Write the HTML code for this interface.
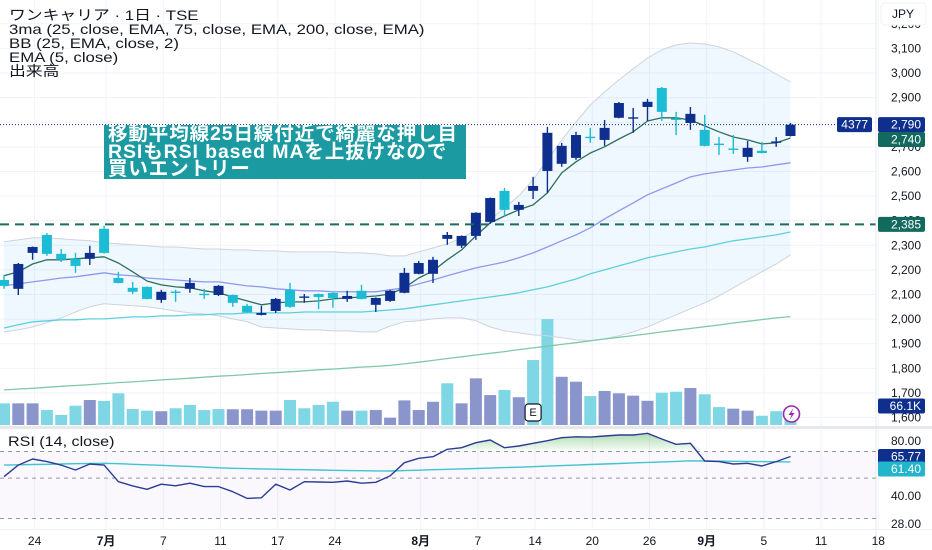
<!DOCTYPE html>
<html><head><meta charset="utf-8">
<style>
html,body{margin:0;padding:0;background:#fff;}
#wrap{position:relative;width:932px;height:550px;overflow:hidden;font-family:"Liberation Sans","Noto Sans CJK JP",sans-serif;color:#131722;}
#legend{position:absolute;left:9px;top:8px;font-size:14px;line-height:14px;transform:scaleX(1.2);transform-origin:0 0;white-space:nowrap;}
#note{position:absolute;left:104px;top:125px;width:362px;height:54px;background:#1b9aa1;color:#fff;font-weight:bold;font-size:19.5px;line-height:17.5px;padding:1px 0 0 4px;box-sizing:border-box;letter-spacing:0.9px;white-space:nowrap;overflow:hidden;}
#rsititle{position:absolute;left:8px;top:433px;font-size:14px;transform:scaleX(1.15);transform-origin:0 0;white-space:nowrap;}
svg{position:absolute;left:0;top:0;}
</style></head>
<body>
<div id="wrap">
<svg id="chart" width="932" height="550"></svg>
<div id="legend">
<div>ワンキャリア · 1日 · TSE</div>
<div>3ma (25, close, EMA, 75, close, EMA, 200, close, EMA)</div>
<div>BB (25, EMA, close, 2)</div>
<div>EMA (5, close)</div>
<div>出来高</div>
</div>
<div id="note">移動平均線25日線付近で綺麗な押し目<br>RSIもRSI based MAを上抜けなので<br>買いエントリー</div>
<div id="rsititle">RSI (14, close)</div>
</div>
<script>
const openP=[2159,2123,2269,2342,2265,2245,2245,2367,2167,2127,2131,2078,2112,2123,2103,2098,2098,2054,2017,2033,2119,2088,2102,2106,2082,2115,2058,2074,2107,2184,2184,2326,2298,2338,2395,2521,2444,2521,2602,2631,2655,2741,2728,2818,2816,2862,2939,2815,2797,2769,2713,2693,2659,2684,2718,2744];
const highP=[2180,2228,2295,2350,2285,2269,2298,2380,2192,2151,2133,2119,2119,2167,2123,2139,2100,2062,2054,2086,2147,2102,2104,2108,2115,2139,2088,2119,2208,2236,2253,2354,2340,2434,2494,2533,2476,2578,2781,2716,2761,2777,2809,2882,2858,2895,2943,2842,2862,2830,2740,2748,2724,2720,2740,2797];
const lowP=[2123,2098,2241,2257,2232,2188,2220,2266,2145,2102,2080,2066,2070,2107,2082,2094,2050,2025,2015,2025,2046,2066,2041,2046,2070,2080,2029,2070,2105,2182,2147,2302,2289,2322,2387,2415,2419,2488,2513,2619,2647,2716,2704,2816,2757,2805,2805,2748,2769,2702,2667,2671,2639,2673,2700,2742];
const closeP=[2135,2224,2293,2265,2241,2216,2269,2269,2147,2111,2082,2111,2110,2147,2101,2135,2066,2027,2025,2082,2050,2092,2090,2086,2094,2082,2086,2115,2188,2228,2241,2342,2338,2432,2492,2444,2464,2541,2757,2704,2748,2739,2777,2878,2820,2883,2842,2812,2834,2704,2711,2691,2696,2675,2722,2790];
const ema5=[2176,2192,2224,2241,2241,2245,2249,2253,2228,2192,2155,2139,2131,2127,2115,2107,2090,2074,2058,2066,2070,2070,2074,2082,2086,2090,2094,2102,2127,2167,2196,2241,2281,2338,2391,2419,2444,2464,2513,2594,2639,2675,2700,2732,2761,2805,2818,2818,2809,2785,2761,2740,2728,2712,2716,2736];
const ema25=[2135,2143,2151,2159,2167,2172,2180,2188,2180,2176,2167,2163,2159,2155,2151,2151,2143,2135,2131,2123,2119,2115,2115,2111,2111,2111,2111,2119,2127,2143,2159,2176,2192,2208,2220,2232,2249,2269,2293,2318,2342,2371,2407,2440,2472,2505,2529,2553,2578,2590,2598,2606,2614,2618,2627,2635];
const ema75=[1964,1977,1989,1993,1997,1997,2001,2001,2005,2009,2009,2013,2013,2017,2017,2021,2021,2025,2025,2025,2025,2029,2029,2029,2029,2029,2033,2037,2042,2050,2058,2066,2074,2082,2090,2098,2107,2119,2131,2147,2163,2184,2200,2216,2232,2249,2261,2273,2285,2293,2306,2318,2326,2334,2342,2354];
const ema200=[1712,1716,1719,1723,1727,1730,1734,1738,1742,1745,1749,1753,1756,1760,1764,1768,1771,1775,1779,1782,1786,1790,1794,1797,1801,1805,1808,1812,1818,1825,1832,1840,1847,1854,1861,1868,1876,1883,1890,1897,1904,1912,1919,1926,1933,1940,1948,1955,1962,1969,1976,1984,1991,1998,2005,2010];
const bbUpper=[2314,2322,2330,2330,2326,2322,2318,2310,2306,2302,2298,2293,2293,2289,2285,2285,2281,2281,2277,2277,2273,2273,2273,2273,2269,2269,2265,2257,2257,2273,2289,2306,2330,2362,2403,2452,2501,2566,2647,2728,2801,2870,2923,2972,3017,3061,3094,3114,3122,3118,3106,3086,3057,3029,2996,2964];
const bbLower=[1948,1956,1968,1985,2005,2029,2050,2062,2058,2054,2050,2042,2033,2025,2021,2013,2001,1989,1968,1964,1960,1956,1956,1952,1952,1948,1948,1972,1989,1993,2001,2005,2005,1993,1968,1952,1944,1936,1932,1924,1916,1912,1920,1932,1948,1968,1993,2017,2042,2066,2094,2127,2160,2192,2224,2261];
const volumeK=[110,110,110,76,51,98,127,122,161,81,73,70,85,102,76,81,80,80,73,73,127,85,102,118,73,73,76,37,125,76,118,212,110,237,152,178,141,330,538,245,220,147,173,161,149,123,164,169,188,156,91,83,73,47,70,66.1];
const volumeDir=['d','u','u','d','d','d','u','d','d','d','d','u','d','d','d','d','u','u','u','u','d','d','d','d','u','d','u','u','u','u','u','d','u','u','u','d','u','d','d','u','u','d','u','u','u','u','d','d','u','d','d','u','u','d','d','d'];
const rsi=[50.9,59.0,63.7,61.6,59.0,55.4,59.8,59.0,47.8,45.3,43.4,46.3,45.4,46.9,44.9,44.9,42.1,38.7,39.0,46.3,43.0,47.8,47.6,47.4,48.2,46.9,47.4,51.4,60.8,64.3,65.6,72.0,73.5,78.3,81.0,73.5,75.1,77.7,80.3,83.4,84.4,84.1,85.2,86.3,86.3,88.2,82.0,76.7,77.7,62.1,61.6,59.8,60.3,58.3,61.6,65.77];
const rsiMA=[59.0,59.2,59.4,59.6,59.8,60.0,60.2,60.3,60.0,59.6,59.2,58.8,58.4,58.0,57.5,57.0,56.6,56.4,56.2,56.0,55.8,55.6,55.4,55.2,55.0,54.9,54.8,54.7,55.0,55.3,55.6,55.9,56.2,56.5,56.8,57.1,57.4,57.8,58.2,58.6,59.0,59.4,59.8,60.2,60.6,61.0,61.4,61.8,62.3,62.2,62.0,61.9,61.8,61.6,61.5,61.4];
const priceTicks=[3200,3100,3000,2900,2800,2700,2600,2500,2400,2300,2200,2100,2000,1900,1800,1700,1600];
const rsiTicks=[80,40,28];
const rsiLevels=[70,50,30];
const timeLabels=['24','7月','7','11','17','24','8月','7','14','20','26','9月','5','11','18'];
const timeLabelIdx=[2,7,11,15,19,23,29,33,37,41,45,49,53,57,61];
const monthLabels=['7月','8月','9月'];
const entryLevel=2385;
const lastEma5Label='2,740';
const lastVolLabel='66.1K';
const countdown='4377';

const NS='http://www.w3.org/2000/svg';
const svg=document.getElementById('chart');
const PW=876;
function xi(i){return 4+14.3*i;}
function yP(p){return 73+(3000-p)*0.2461;}
function yV(v){return 425-v/5.08;}
function yR(r){return 441+79*Math.log(80/r);}
function mk(tag,attrs,parent){const e=document.createElementNS(NS,tag);for(const k in attrs)e.setAttribute(k,attrs[k]);(parent||svg).appendChild(e);return e;}
function fmt(p){return p.toLocaleString('en-US');}

const defs=mk('defs',{});
const cp1=mk('clipPath',{id:'cMain'},defs);mk('rect',{x:0,y:0,width:PW,height:426},cp1);
const cp2=mk('clipPath',{id:'cRsi'},defs);mk('rect',{x:0,y:429,width:PW,height:100},cp2);
const gr=mk('linearGradient',{id:'gOb',x1:0,y1:0,x2:0,y2:1},defs);
mk('stop',{offset:'0','stop-color':'#4caf50','stop-opacity':'0.45'},gr);
mk('stop',{offset:'1','stop-color':'#4caf50','stop-opacity':'0.03'},gr);

const grid=mk('g',{});


timeLabelIdx.forEach(i=>{mk('line',{x1:xi(i)+2,x2:xi(i)+2,y1:0,y2:530,stroke:'#f0f3fa','stroke-width':1},grid);});
priceTicks.forEach(p=>{mk('line',{x1:0,x2:PW,y1:yP(p),y2:yP(p),stroke:'#f0f3fa','stroke-width':1},grid);});

const main=mk('g',{'clip-path':'url(#cMain)'});



function pts(arr,fy){return arr.map((v,i)=>xi(i).toFixed(1)+','+fy(v).toFixed(1)).join(' ');}
const bbPts=bbUpper.map((v,i)=>xi(i)+','+yP(v)).concat(bbLower.map((v,i)=>xi(i)+','+yP(v)).reverse()).join(' ');
const bbFill=mk('polygon',{points:bbPts,fill:'#2196f3','fill-opacity':'0.07'},main);



const vg=mk('g',{},main);


volumeK.forEach((v,i)=>{
  const r=mk('rect',{x:xi(i)-6,y:yV(v),width:12,height:425-yV(v),fill:volumeDir[i]==='u'?'#8a95cc':'#7fd6e4'},vg);
  
  
});

function line(arr,color,w,name){
  const l=mk('polyline',{points:pts(arr,yP),fill:'none',stroke:color,'stroke-width':w,'stroke-linejoin':'round'},main);
  
  
}
line(bbUpper,'#cfd3da',1,'bb-upper-line');
line(bbLower,'#cfd3da',1,'bb-lower-line');
line(ema200,'#80c9a8',1.3,'ema200-line');
line(ema75,'#5fd0da',1.3,'ema75-line');
line(ema25,'#8f99ee',1.3,'ema25-line');
line(ema5,'#2d6e5c',1.3,'ema5-line');

const cg=mk('g',{},main);


openP.forEach((o,i)=>{
  const c=closeP[i],up=c>=o,col=up?'#0f2f8e':'#1bbcd4',x=xi(i);
  const g=mk('g',{},cg);
  
  
  mk('line',{x1:x,x2:x,y1:yP(highP[i]),y2:yP(lowP[i]),stroke:col,'stroke-width':1.4},g);
  const t=yP(Math.max(o,c)),b=yP(Math.min(o,c));
  mk('rect',{x:x-5,y:t,width:10,height:Math.max(1.4,b-t),fill:col},g);
});

const dl=mk('line',{x1:0,x2:PW,y1:yP(entryLevel),y2:yP(entryLevel),stroke:'#1e6b60','stroke-width':2,'stroke-dasharray':'9,6'});


const pl=mk('line',{x1:0,x2:838,y1:yP(closeP[55]),y2:yP(closeP[55]),stroke:'#0f2f8e','stroke-width':1,'stroke-dasharray':'1,2'});



mk('rect',{x:0,y:426,width:932,height:3,fill:'#e6e8ee'});
mk('line',{x1:876,x2:876,y1:0,y2:550,stroke:'#e6e8ee','stroke-width':1});
mk('line',{x1:0,x2:932,y1:529.5,y2:529.5,stroke:'#eceef2','stroke-width':1});

const rg=mk('g',{'clip-path':'url(#cRsi)'});


mk('rect',{x:0,y:yR(70),width:PW,height:yR(30)-yR(70),fill:'#7e57c2','fill-opacity':'0.04'},rg);
rsiLevels.forEach(l=>{
  const e=mk('line',{x1:0,x2:PW,y1:yR(l),y2:yR(l),stroke:'#9598a1','stroke-width':1,'stroke-dasharray':'4,4'},rg);
  
  
});
const y70=yR(70);
const obPts=rsi.map((r,i)=>xi(i)+','+Math.min(yR(r),y70)).concat([xi(rsi.length-1)+','+y70,xi(0)+','+y70]).join(' ');
const ob=mk('polygon',{points:obPts,fill:'url(#gOb)'},rg);


const rma=mk('polyline',{points:pts(rsiMA,yR),fill:'none',stroke:'#3fc4d0','stroke-width':1.4},rg);


const rl=mk('polyline',{points:pts(rsi,yR),fill:'none',stroke:'#2a3d93','stroke-width':1.4,'stroke-linejoin':'round'},rg);



function txt(s,x,y,attrs,name){
  const t=mk('text',Object.assign({x:x,y:y,'font-size':12,'font-family':'"Liberation Sans","Noto Sans CJK JP",sans-serif',fill:'#131722','dominant-baseline':'central'},attrs||{}));
  t.textContent=s;
  
  
  return t;
}
priceTicks.forEach(p=>{txt(fmt(p),921,yP(p),{'text-anchor':'end'},'price-tick-label');});
rsiTicks.forEach(r=>{txt(r.toFixed(2),921,yR(r),{'text-anchor':'end'},'rsi-tick-label');});
timeLabels.forEach((s,k)=>{
  const b=monthLabels.indexOf(s)>=0;
  txt(s,xi(timeLabelIdx[k])+2,541,{'text-anchor':'middle','font-weight':b?'bold':'normal'},'time-tick-label');
});

function badge(s,x,y,w,color,name){
  const g=mk('g',{});
  
  
  mk('rect',{x:x,y:y-7.5,width:w,height:15,rx:2,fill:color},g);
  const t=mk('text',{x:x+w-4,y:y,'font-size':12,'text-anchor':'end','dominant-baseline':'central',fill:'#fff','font-family':'"Liberation Sans",sans-serif'},g);
  t.textContent=s;
}
badge(countdown,837,yP(closeP[55]),35,'#0f2f8e','countdown-badge');
badge(fmt(closeP[55]),878,yP(closeP[55]),47,'#0f2f8e','last-price-badge');
badge(lastEma5Label,878,yP(ema5[55])+1.5,47,'#12695d','ema5-badge');
badge(fmt(entryLevel),878,yP(entryLevel),47,'#12695d','entry-level-badge');
badge(lastVolLabel,878,406,47,'#0f2f8e','volume-badge');
badge(rsi[55].toFixed(2),878,456.5,47,'#0f2f8e','rsi-value-badge');
badge(rsiMA[55].toFixed(2),878,469,47,'#22b5cc','rsi-ma-badge');

const jg=mk('g',{});


mk('rect',{x:881,y:3,width:45,height:22,rx:4,fill:'#fff',stroke:'#eef0f3'},jg);
const jt=mk('text',{x:903,y:14,'font-size':12,'text-anchor':'middle','dominant-baseline':'central',fill:'#131722','font-family':'"Liberation Sans",sans-serif'},jg);
jt.textContent='JPY';

const eg=mk('g',{});


mk('rect',{x:xi(37)-8,y:404,width:16,height:17,rx:3,fill:'#fff',stroke:'#131722','stroke-width':1.2},eg);
const et=mk('text',{x:xi(37),y:413,'font-size':11,'text-anchor':'middle','dominant-baseline':'central',fill:'#131722','font-family':'"Liberation Sans",sans-serif'},eg);
et.textContent='E';

const lg=mk('g',{});


mk('circle',{cx:xi(55)+1,cy:414,r:8,fill:'#fff',stroke:'#9c27b0','stroke-width':1.6},lg);
mk('polygon',{points:(xi(55)+3)+',408 '+(xi(55)-2)+',415 '+(xi(55)+1)+',415 '+(xi(55)-1)+',420 '+(xi(55)+4)+',413 '+(xi(55)+1)+',413',fill:'#9c27b0'},lg);
</script>
</body></html>
